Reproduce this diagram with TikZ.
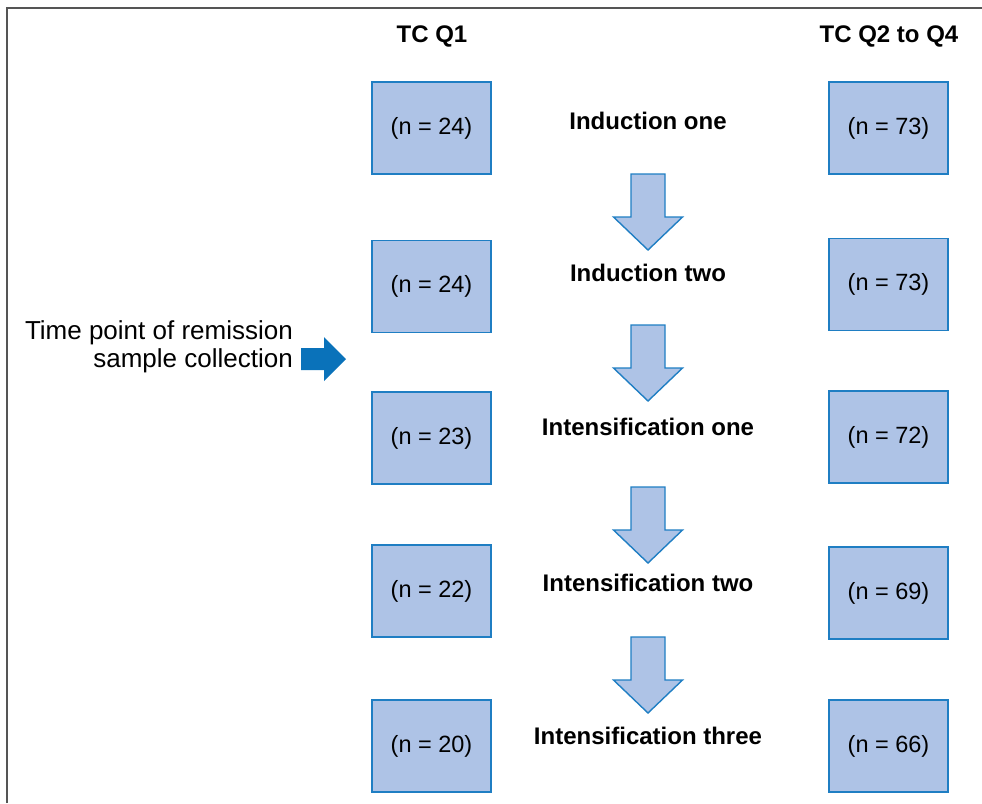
\documentclass[tikz,border=0pt]{standalone}
\usepackage{fontspec}
\setmainfont{Liberation Sans}
\definecolor{boxfill}{HTML}{AEC3E6}
\definecolor{boxline}{HTML}{1F7EC3}
\definecolor{markblue}{HTML}{0A72BA}
\definecolor{framegray}{HTML}{555555}
\tikzset{
  countbox/.style={draw=boxline, fill=boxfill, line width=1.6pt,
    minimum width=119pt, minimum height=92pt, inner sep=0pt,
    font=\fontsize{23.5}{27}\selectfont},
  header/.style={font=\fontsize{24}{28}\selectfont\bfseries, inner sep=0pt},
  phase/.style={font=\fontsize{24}{28}\selectfont\bfseries, inner sep=0pt},
  note/.style={font=\fontsize{26}{29}\selectfont, inner sep=0pt, align=right},
  down block/.pic={
    \draw[draw=boxline, fill=boxfill, line width=1.4pt, line join=miter]
      (-17,0) -- (17,0) -- (17,43) -- (34.5,43) -- (0,76)
      -- (-34.5,43) -- (-17,43) -- cycle;
  },
  right block/.pic={
    \fill[markblue]
      (0,-11) -- (23,-11) -- (23,-22) -- (45,0) -- (23,22)
      -- (23,11) -- (0,11) -- cycle;
  }
}
\begin{document}
\begin{tikzpicture}[x=1pt, y=-1pt]
  \useasboundingbox (0,0) rectangle (982,803);

  % outer frame: top and left rules only
  \draw[framegray, line width=1.8pt] (7,803) -- (7,8) -- (982,8);

  % column headers
  \node[header] (hq1) at (432,36) {TC Q1};
  \node[header] (hq24) at (889,36) {TC Q2 to Q4};

  % first-quartile counts
  \node[countbox] (a1) at (431.5,128) {(n = 24)};
  \node[countbox] (a2) at (431.5,286.5) {(n = 24)};
  \node[countbox] (a3) at (431.5,438) {(n = 23)};
  \node[countbox] (a4) at (431.5,591) {(n = 22)};
  \node[countbox] (a5) at (431.5,746) {(n = 20)};

  % second-to-fourth-quartile counts
  \node[countbox] (b1) at (888.5,128) {(n = 73)};
  \node[countbox] (b2) at (888.5,284.5) {(n = 73)};
  \node[countbox] (b3) at (888.5,437) {(n = 72)};
  \node[countbox] (b4) at (888.5,593) {(n = 69)};
  \node[countbox] (b5) at (888.5,746) {(n = 66)};

  % treatment phases
  \node[phase] (p1) at (648,121) {Induction one};
  \node[phase] (p2) at (648,273) {Induction two};
  \node[phase] (p3) at (648,427) {Intensification one};
  \node[phase] (p4) at (648,583) {Intensification two};
  \node[phase] (p5) at (648,736) {Intensification three};

  % block arrows between phases
  \pic at (648,174) {down block};
  \pic at (648,325) {down block};
  \pic at (648,487) {down block};
  \pic at (648,637) {down block};

  % sampling time point marker
  \node[note, anchor=east] (t1) at (293,333) {Time point of remission};
  \node[note, anchor=east] (t2) at (293,361) {sample collection};
  \pic at (301,359) {right block};
\end{tikzpicture}
\end{document}
